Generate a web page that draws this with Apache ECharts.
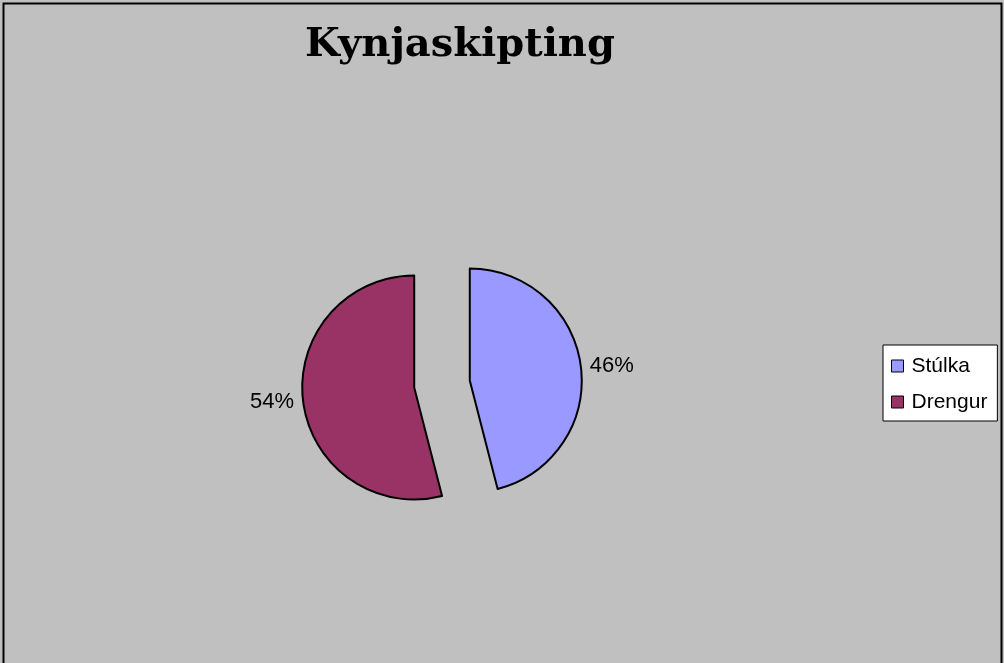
<!DOCTYPE html>
<html>
<head>
<meta charset="utf-8">
<script src="https://cdn.jsdelivr.net/npm/echarts@6/dist/echarts.min.js"></script>
<style>
  html, body { margin: 0; padding: 0; background: #c0c0c0; }
  #chart { width: 1004px; height: 663px; }
</style>
</head>
<body>
<div id="chart"></div>
<script>
// data
const categories = ["Stúlka", "Drengur"];
const values = [46, 54];
const colors = ["#9999ff", "#993366"];

const chart = echarts.init(document.getElementById("chart"));

chart.setOption({
  backgroundColor: "#c0c0c0",
  animation: false,
  title: {
    text: "Kynjaskipting",
    left: 455,
    top: 21,
    textAlign: "center",
    textStyle: {
      fontFamily: "DejaVu Serif",
      fontWeight: "bold",
      fontSize: 40,
      color: "#000000",
    },
  },
  legend: {
    orient: "vertical",
    left: 883,
    top: 345,
    padding: [10, 10, 8, 8],
    itemGap: 14,
    itemWidth: 12,
    itemHeight: 12,
    icon: "rect",
    backgroundColor: "#ffffff",
    borderColor: "#000000",
    borderWidth: 1,
    borderRadius: 0,
    selectedMode: false,
    itemStyle: { borderColor: "#000000", borderWidth: 1 },
    textStyle: {
      fontFamily: "Liberation Sans",
      fontSize: 21,
      lineHeight: 22,
      color: "#000000",
      padding: [0, 0, 0, 3],
    },
    data: categories,
  },
  graphic: [
    {
      type: "rect",
      silent: true,
      shape: { x: 3.5, y: 3.5, width: 998, height: 700 },
      style: { fill: null, stroke: "#000000", lineWidth: 2 },
    },
  ],
  series: [
    {
      type: "pie",
      center: [442, 384],
      radius: 112,
      startAngle: 90,
      clockwise: true,
      selectedMode: "multiple",
      selectedOffset: 28,
      avoidLabelOverlap: false,
      itemStyle: { borderColor: "#000000", borderWidth: 2 },
      label: {
        show: true,
        position: "outside",
        formatter: "{d}%",
        fontFamily: "Liberation Sans",
        fontSize: 22,
        color: "#000000",
      },
      labelLine: { show: false, length: 4, length2: 0 },
      emphasis: { disabled: true },
      data: categories.map((name, i) => ({
        name: name,
        value: values[i],
        selected: true,
        itemStyle: { color: colors[i] },
      })),
    },
  ],
});
</script>
</body>
</html>
